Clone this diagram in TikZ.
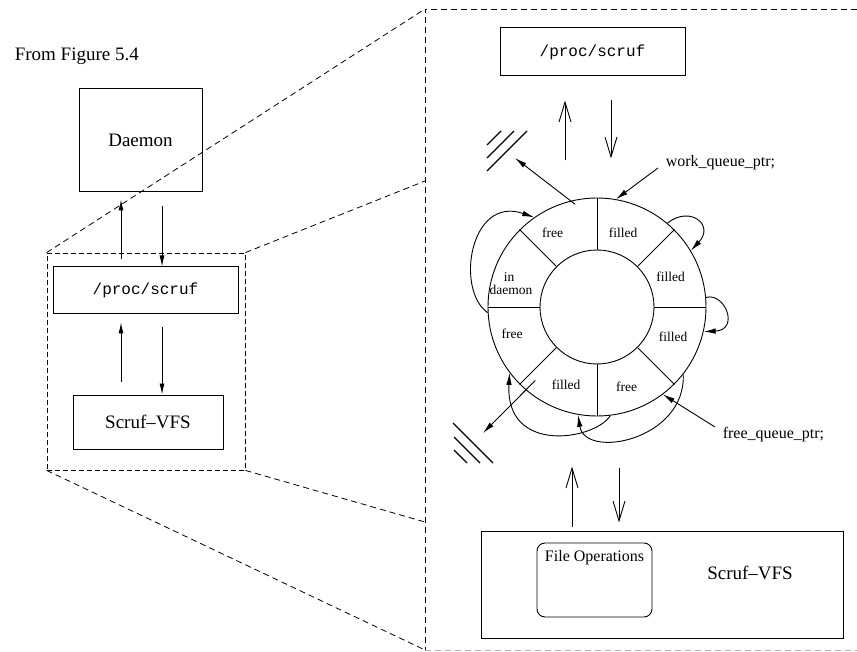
\documentclass[tikz,border=0pt]{standalone}
\usepackage{fontspec}
\setmainfont{Liberation Serif}
\setmonofont{Liberation Mono}
\usetikzlibrary{arrows.meta,calc}

\begin{document}
\begin{tikzpicture}[x=1pt,y=-1pt,
  line width=0.9pt,
  box/.style={draw, line width=1pt, inner sep=0pt},
  zoomline/.style={dash pattern=on 6pt off 4pt, line width=0.8pt},
  smallar/.style={-{Latex[length=11pt,width=5pt]}},
  barbar/.style={-{Straight Barb[length=20pt,width=12pt]}},
  ringar/.style={-{Latex[length=12pt,width=5.5pt]}},
  big/.style={font=\fontsize{19}{22}\selectfont},
  mid/.style={font=\fontsize{16}{19}\selectfont},
  tt/.style={font=\fontsize{16}{19}\selectfont\ttfamily},
  seg/.style={font=\fontsize{13.5}{14}\selectfont, inner sep=0pt},
  hatch/.style={line width=1.2pt},
]
\useasboundingbox (0,0) rectangle (857,652);

% ---------- overview on the left ----------
\node[big, anchor=base west] (caption) at (11,61) {From Figure 5.4};
\node[box, big, minimum width=123pt, minimum height=103pt] (daemon) at (140.5,140.5) {Daemon};
\node[draw, zoomline, dash pattern=on 5pt off 3pt, minimum width=198pt,
      minimum height=217pt, inner sep=0pt] (zoomL) at (146,361.5) {};
\node[box, tt, minimum width=185pt, minimum height=47pt] (procL) at (145.5,290.5) {/proc/scruf};
\node[box, big, minimum width=150pt, minimum height=54pt] (vfsL) at (148,422) {Scruf--VFS};

\draw[smallar] ([xshift=-24.5pt,yshift=7pt]procL.north) -- ([xshift=-19.5pt,yshift=-7pt]daemon.south);
\draw[smallar] ([xshift=21.5pt,yshift=-14pt]daemon.south) -- ([xshift=16.5pt]procL.north);
\draw[smallar] ([xshift=-27pt,yshift=13pt]vfsL.north) -- ([xshift=-24.5pt,yshift=-8pt]procL.south);
\draw[smallar] ([xshift=16.5pt,yshift=-13pt]procL.south) -- ([xshift=14pt]vfsL.north);

% ---------- enlarged region frame ----------
\coordinate (rTL) at (425,9);
\coordinate (rUp) at (425,181);
\coordinate (rLow) at (425,522);
\coordinate (rBL) at (425,650);
\draw[zoomline] (857,9) -- (rTL) -- (rBL);
\draw[zoomline, gray!60] (rBL) -- (857,650);
\draw[zoomline] (zoomL.north west) -- (rTL);
\draw[zoomline] (zoomL.north east) -- (rUp);
\draw[zoomline] (zoomL.south west) -- (rBL);
\draw[zoomline] (zoomL.south east) -- (rLow);

% ---------- enlarged view ----------
\node[box, tt, minimum width=185pt, minimum height=48pt] (procR) at (592.5,52) {/proc/scruf};
\draw[barbar] ([xshift=-27.5pt,yshift=-84pt]procR.south) -- ([xshift=-27.5pt,yshift=-24pt]procR.south);
\draw[barbar] ([xshift=18.5pt,yshift=-24pt]procR.south) -- ([xshift=18.5pt,yshift=-82pt]procR.south);

% circular buffer
\node[draw, circle, minimum size=218pt, inner sep=0pt] (ring) at (597,307) {};
\node[draw, circle, minimum size=114pt, inner sep=0pt] (hub) at (597,307) {};
\foreach \a in {0,45,...,315} \draw (hub.\a) -- (ring.\a);

\node[seg] (s1) at (552.7,233) {free};
\node[seg] (s2) at (623,233) {filled};
\node[seg] (s3) at (670.7,276.7) {filled};
\node[seg] (s4) at (673,337) {filled};
\node[seg] (s5) at (626.7,387) {free};
\node[seg] (s6) at (566,385) {filled};
\node[seg] (s7) at (512,334) {free};
\node[seg, align=left] (s8) at (511,284) {\hspace*{1.05em}in\\[-1pt]daemon};

% slot transitions
\draw[ringar] (ring.183) .. controls (455,290) and (470,195) .. (ring.125);
\draw[ringar] (ring.50) .. controls (690,205) and (715,225) .. (ring.31);
\draw[ringar] (ring.5) .. controls (725,292) and (740,330) .. (ring.-13);
\draw[ringar] (ring.-38) .. controls (686,440) and (585,460) .. (ring.-100);
\draw[ringar] (ring.-83) .. controls (595,440) and (505,455) .. (ring.217);

% queue pointers
\node[mid, anchor=west] (wqp) at (662,163) {work\_queue\_ptr;};
\node[mid, anchor=west] (fqp) at (719,435) {free\_queue\_ptr;};
\draw[ringar] ([xshift=-4pt,yshift=-5pt]wqp.west) -- (ring.80);
\draw[ringar] ([xshift=-4pt,yshift=8pt]fqp.west) -- (ring.-53);

% discarded entries
\coordinate (sinkA) at (515,158);
\coordinate (sinkB) at (483,433);
\draw[hatch] (487,145) -- (501,131);
\draw[hatch] (487,158) -- (514,131);
\draw[hatch] (487,171) -- (527,131);
\draw[hatch] (453,423) -- (493,463);
\draw[hatch] (454,437) -- (480,463);
\draw[hatch] (454,450) -- (467,463);
\draw[ringar] ($(ring.center)+(102:105pt)$) -- (sinkA);
\draw[ringar] ($(ring.center)+(230:96pt)$) -- (sinkB);

% file system module
\node[box, minimum width=362pt, minimum height=107pt] (vfsR) at (662,584.5) {};
\node[big] (vfsRlabel) at (750,573) {Scruf--VFS};
\node[draw, rounded corners=8pt, minimum width=115pt, minimum height=74pt, inner sep=0pt] (fileops) at (594.5,580) {};
\node[mid] (fileopsLabel) at (594.5,558) {File Operations};

\draw[barbar] ([xshift=-90pt,yshift=4pt]vfsR.north) -- ([xshift=-90pt,yshift=64pt]vfsR.north);
\draw[barbar] ([xshift=-43pt,yshift=63pt]vfsR.north) -- ([xshift=-43pt,yshift=8pt]vfsR.north);
\end{tikzpicture}
\end{document}
